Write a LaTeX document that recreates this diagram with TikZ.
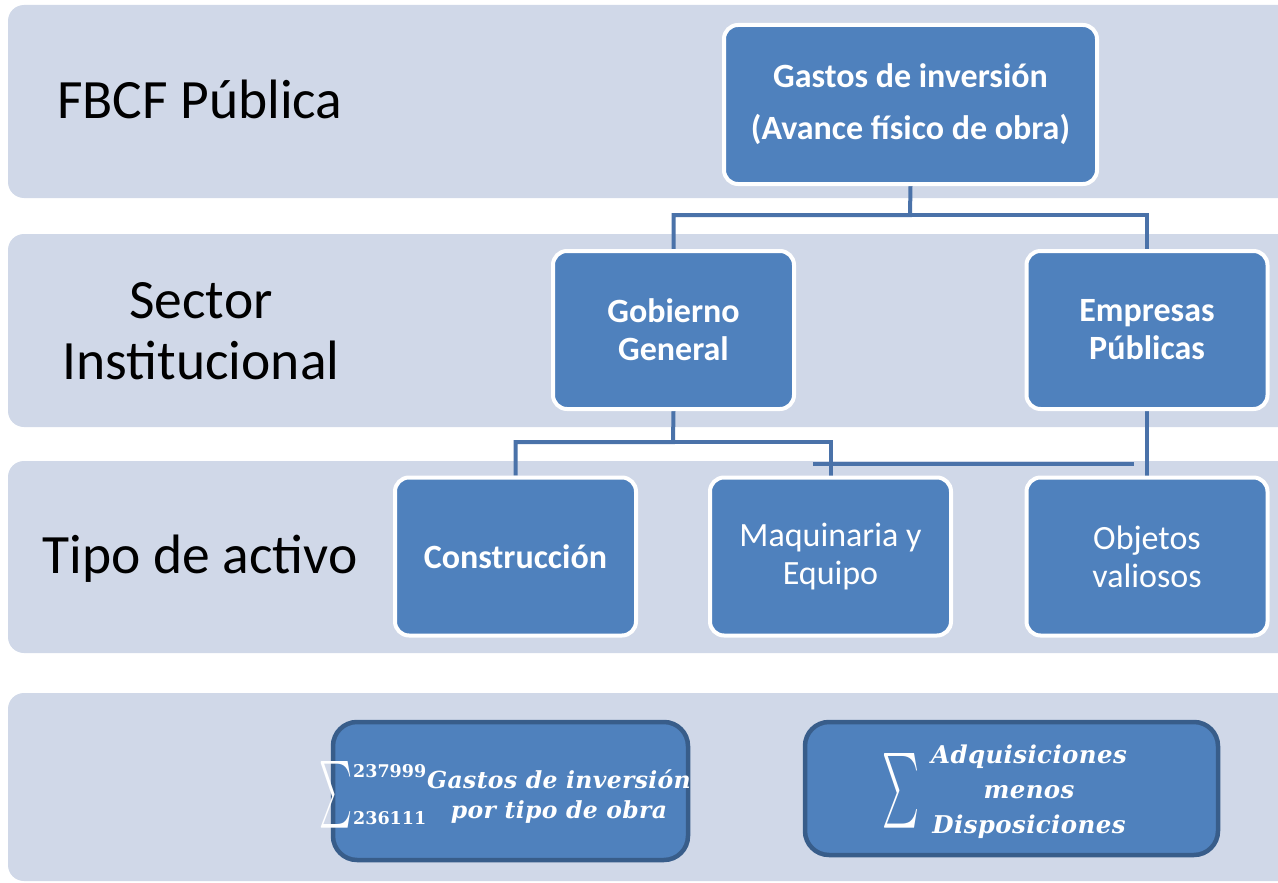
\documentclass[tikz,border=0pt]{standalone}
\usepackage{fontspec}
\setmainfont{Carlito}
\newfontfamily\mathtxt[LetterSpace=1.5]{DejaVu Serif}
\newfontfamily\numtxt{DejaVu Serif}
\usepackage{graphicx}
\definecolor{band}{RGB}{208,216,232}
\definecolor{boxfill}{RGB}{79,129,189}
\definecolor{conncol}{RGB}{74,114,169}
\definecolor{darkedge}{RGB}{56,93,138}
\pgfdeclarelayer{bg}
\pgfsetlayers{bg,main}
\begin{document}
\begin{tikzpicture}[x=1pt,y=-1pt,
  bandbox/.style={fill=band, rounded corners=16pt},
  rowlabel/.style={text=black, inner sep=0pt, align=center, font=\fontsize{55.5}{61}\selectfont},
  orgbox/.style={draw=white, line width=4pt, fill=boxfill, rounded corners=14pt,
     minimum width=241pt, minimum height=158pt, text=white, align=center,
     inner sep=0pt, font=\fontsize{34}{38}\selectfont},
  sumbox/.style={draw=darkedge, line width=4.5pt, fill=boxfill, rounded corners=24pt, inner sep=0pt},
  sumtext/.style={text=white, align=center, inner sep=0pt, font=\fontsize{23.5}{30}\mathtxt\bfseries\itshape},
  limtext/.style={text=white, inner sep=0pt, font=\fontsize{17.5}{20}\numtxt\bfseries},
  conn/.style={draw=conncol, line width=4pt}
]
\useasboundingbox (0,0) rectangle (1278,883);
\begin{pgfonlayer}{bg}
\begin{scope}
\clip (0,0) rectangle (1278,883);
\fill[bandbox] (8,5) rectangle (1310,198);
\fill[bandbox] (8,234) rectangle (1310,427);
\fill[bandbox] (8,461) rectangle (1310,653);
\fill[bandbox] (8,693) rectangle (1310,881);
\end{scope}
\end{pgfonlayer}

% row labels
\node[rowlabel, anchor=base west] (l1) at (57,118) {FBCF Pública};
\node[rowlabel] (l2) at (201,331) {Sector\\Institucional};
\node[rowlabel, anchor=base] (l3) at (200,573) {Tipo de activo};

% org boxes
\node[orgbox, minimum width=373pt, minimum height=159pt,
      font=\fontsize{34}{52}\selectfont\bfseries] (top) at (910.5,104.5)
      {Gastos de inversión\\(Avance físico de obra)};
\node[orgbox, font=\fontsize{34}{38}\selectfont\bfseries] (gob) at (673.5,330) {Gobierno\\General};
\node[orgbox, font=\fontsize{34}{38}\selectfont\bfseries] (emp) at (1147,330) {Empresas\\Públicas};
\node[orgbox, font=\fontsize{34}{38}\selectfont\bfseries] (cons) at (515.5,556.5) {Construcción};
\node[orgbox] (maq) at (830.5,556.5) {Maquinaria y\\Equipo};
\node[orgbox] (obj) at (1147,556.5) {Objetos\\valiosos};

% connectors
\coordinate (j1) at (910,215);
\coordinate (j2) at (673,442);
\coordinate (h1) at (813,464);
\coordinate (h2) at (1134,464);
\begin{pgfonlayer}{bg}
\draw[conn] (top.south) -- (j1) -| (gob.north);
\draw[conn] (j1) -| (emp.north);
\draw[conn] (gob.south) -- (j2) -| (cons.north);
\draw[conn] (j2) -| (maq.north);
\draw[conn] (emp.south) -- (obj.north);
\draw[conn] (h1) -- (h2);
\end{pgfonlayer}

% bottom boxes
\node[sumbox, minimum width=355pt, minimum height=138pt] (sumL) at (510.5,791) {};
\node[sumbox, minimum width=413pt, minimum height=133pt] (sumR) at (1011.5,788.5) {};

\node[inner sep=0pt, text=white] (sigL) at (336,795) {\resizebox{33pt}{50pt}{$\sum$}};
\node[limtext, anchor=west] (supL) at (353,771) {237999};
\node[limtext, anchor=west] (subL) at (353,818) {236111};
\node[sumtext] (txtL) at (559,797) {Gastos de inversión\\por tipo de obra};

\node[inner sep=0pt, text=white] (sigR) at (900.5,791) {\resizebox{37pt}{56pt}{$\sum$}};
\node[sumtext, font=\fontsize{24.5}{35}\mathtxt\bfseries\itshape] (txtR) at (1029,792) {Adquisiciones\\menos\\Disposiciones};
\end{tikzpicture}
\end{document}
